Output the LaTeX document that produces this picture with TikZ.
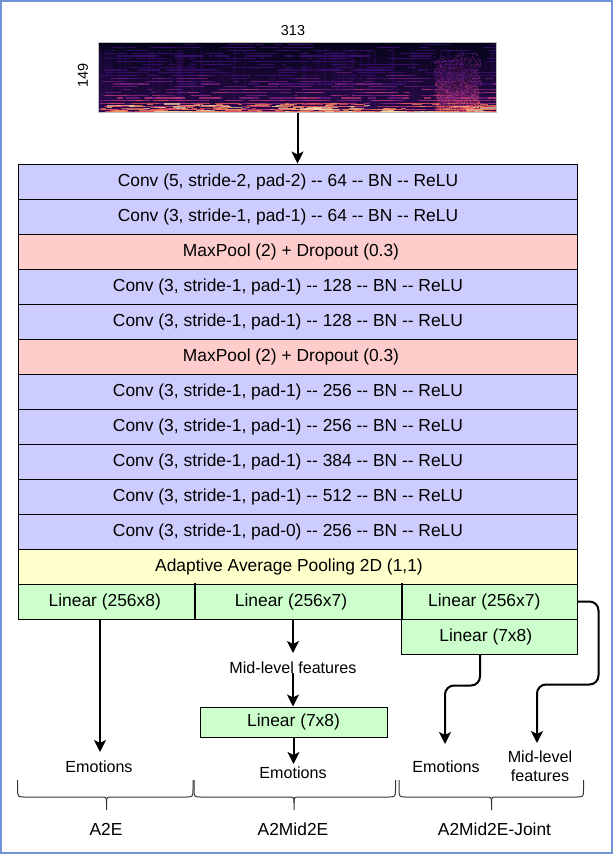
\documentclass[tikz,border=0pt]{standalone}
\usepackage{fontspec}
\newfontfamily\lib{Liberation Sans}
\usetikzlibrary{arrows.meta}
\definecolor{frameblue}{HTML}{7094D4}
\definecolor{convblue}{HTML}{CCCCFF}
\definecolor{poolred}{HTML}{FFCCCC}
\definecolor{adapyellow}{HTML}{FFFFCC}
\definecolor{lingreen}{HTML}{CCFFCC}
\definecolor{bracegray}{HTML}{333333}
\definecolor{specA}{HTML}{05041A}
\definecolor{specB}{HTML}{2A0A48}
\definecolor{mag0}{HTML}{3B0F70}
\definecolor{mag1}{HTML}{721F81}
\definecolor{mag2}{HTML}{B73779}
\definecolor{mag3}{HTML}{E8505E}
\definecolor{mag4}{HTML}{FA8E64}
\definecolor{mag5}{HTML}{FCD9A8}
\tikzset{
  boxfont/.style={font=\lib\fontsize{17.4}{20}\selectfont, inner sep=0pt},
  labfont/.style={font=\lib\fontsize{16.1}{19}\selectfont, inner sep=1pt, align=center},
  dimfont/.style={font=\lib\fontsize{14.4}{17}\selectfont, inner sep=0pt},
  layer/.style={boxfont, draw=black, line width=1pt, minimum width=559pt, minimum height=35pt},
  linbox/.style={boxfont, draw=black, line width=1pt, fill=lingreen, minimum height=35pt},
  lshift/.style={execute at begin node={\hspace*{-#1}}},
  arr/.style={line width=2pt, -{Stealth[length=12pt, width=12pt, inset=3pt]}},
  bracepath/.style={draw=bracegray, line width=1pt},
}
\begin{document}
\begin{tikzpicture}[x=1pt,y=-1pt]
\useasboundingbox (0,0) rectangle (613,854);
\draw[frameblue, line width=2pt] (1,1) rectangle (612,853);

% spectrogram
\begin{scope}
\clip (98,42) rectangle (496,112);
\shade[top color=specA, bottom color=specB] (98,42) rectangle (496,112);
\pgfmathsetseed{11}
\foreach \i in {1,...,45}{
  \pgfmathsetmacro\xa{98+rnd*398}
  \fill[mag0, opacity=0.22] (\xa,50) rectangle ++(1.5+rnd*3,62);
}
\foreach \j in {0,...,11}{
  \fill[mag2, opacity=0.03+0.035*\j] (437,58+4.5*\j) rectangle (479,62.5+4.5*\j);
}
\foreach \i in {1,...,850}{
  \pgfmathsetmacro\xa{98+rnd*398}
  \pgfmathsetmacro\u{rnd}
  \pgfmathsetmacro\yy{112-2.8*round(24*\u*\u)}
  \pgfmathsetmacro\len{3+rnd*24}
  \pgfmathtruncatemacro\k{min(5,max(0,floor((1-\u)^1.2*6*(0.4+0.6*rnd))))}
  \draw[line width=1.2pt, color=mag\k, opacity=0.75] (\xa,\yy) -- ++(\len,0);
}
\foreach \i in {1,...,160}{
  \pgfmathsetmacro\xa{98+rnd*398}
  \pgfmathsetmacro\yy{104+rnd*8}
  \pgfmathtruncatemacro\k{3+round(rnd*2)}
  \draw[line width=1.2pt, color=mag\k, opacity=0.7] (\xa,\yy) -- ++(3+rnd*15,0);
}
\foreach \i in {1,...,900}{
  \pgfmathsetmacro\xa{434+rnd*46}
  \pgfmathsetmacro\u{rnd}
  \pgfmathsetmacro\yy{112-58*\u}
  \pgfmathtruncatemacro\k{min(5,max(1,floor((1-\u)*(1-\u)*4.5*(0.5+0.5*rnd))+1))}
  \fill[color=mag\k, opacity=0.45] (\xa,\yy) rectangle ++(1.2,1.2);
}
\end{scope}
\draw[gray!50, line width=0.8pt] (98,42) rectangle (496,112);
\node[dimfont] (w313) at (293,31) {313};
\node[dimfont, rotate=90] (h149) at (83,75) {149};
\coordinate (specbot) at (297.5,112.5);

% layers
\node[layer, fill=convblue, lshift=19pt] (c1) at (297.5,181.5) {Conv (5, stride-2, pad-2) -- 64 -- BN -- ReLU};
\node[layer, fill=convblue, lshift=19pt] (c2) at (297.5,216.5) {Conv (3, stride-1, pad-1) -- 64 -- BN -- ReLU};
\node[layer, fill=poolred, lshift=13pt] (p1) at (297.5,251.5) {MaxPool (2) + Dropout (0.3)};
\node[layer, fill=convblue, lshift=19pt] (c3) at (297.5,286.5) {Conv (3, stride-1, pad-1) -- 128 -- BN -- ReLU};
\node[layer, fill=convblue, lshift=19pt] (c4) at (297.5,321.5) {Conv (3, stride-1, pad-1) -- 128 -- BN -- ReLU};
\node[layer, fill=poolred, lshift=13pt] (p2) at (297.5,356.5) {MaxPool (2) + Dropout (0.3)};
\node[layer, fill=convblue, lshift=19pt] (c5) at (297.5,391.5) {Conv (3, stride-1, pad-1) -- 256 -- BN -- ReLU};
\node[layer, fill=convblue, lshift=19pt] (c6) at (297.5,426.5) {Conv (3, stride-1, pad-1) -- 256 -- BN -- ReLU};
\node[layer, fill=convblue, lshift=19pt] (c7) at (297.5,461.5) {Conv (3, stride-1, pad-1) -- 384 -- BN -- ReLU};
\node[layer, fill=convblue, lshift=19pt] (c8) at (297.5,496.5) {Conv (3, stride-1, pad-1) -- 512 -- BN -- ReLU};
\node[layer, fill=convblue, lshift=19pt] (c9) at (297.5,531.5) {Conv (3, stride-1, pad-0) -- 256 -- BN -- ReLU};
\node[layer, fill=adapyellow, lshift=17pt] (ap) at (297.5,566.5) {Adaptive Average Pooling 2D (1,1)};

\draw[arr] (specbot) -- (c1.north);

% linear row
\node[linbox, minimum width=176.5pt, lshift=3pt] (lin1) at (106.25,601.5) {Linear (256x8)};
\node[linbox, minimum width=207pt, lshift=14pt] (lin2) at (298,601.5) {Linear (256x7)};
\node[linbox, minimum width=175.5pt, lshift=10pt] (lin3) at (489.25,601.5) {Linear (256x7)};
\node[linbox, minimum width=175.5pt, lshift=7pt] (lin4) at (489.25,636.5) {Linear (7x8)};
\draw[line width=2pt] ([yshift=1pt]lin1.north east) -- (lin1.south east);
\draw[line width=2pt] ([yshift=1pt]lin2.north east) -- (lin2.south east);

% A2E
\coordinate (e1tip) at (100,752);
\draw[arr] (e1tip |- lin1.south) -- (e1tip);
\node[labfont] (e1) at (99,767) {Emotions};

% A2Mid2E
\coordinate (m1tip) at (293,653);
\draw[arr] (m1tip |- lin2.south) -- (m1tip);
\node[labfont] (mid) at (293,668) {Mid-level features};
\node[linbox, minimum width=187pt, minimum height=30pt] (lin5) at (293.5,722) {Linear (7x8)};
\draw[arr] ([yshift=2pt]mid.south) -- (mid.south |- lin5.north);
\coordinate (e2tip) at (293.5,764);
\draw[arr] (lin5.south) -- (e2tip);
\node[labfont] (e2) at (293,773) {Emotions};

% A2Mid2E-Joint
\coordinate (e3tip) at (445,744);
\coordinate (f3tip) at (537,743);
\draw[arr, rounded corners=9pt] (lin4.south -| 480,0) -- ++(0,31) -| (e3tip);
\draw[arr, rounded corners=9pt] (lin3.east) -- ++(21,0) -- ++(0,83) -| (f3tip);
\node[labfont] (e3) at (446,767) {Emotions};
\node[labfont] (f3) at (540,766.5) {Mid-level\\features};

% braces
\foreach \xa/\xb/\xm [count=\n] in {17.6/193/106.5, 194/395.5/294, 399/583.5/491.5}{
  \draw[bracepath] (\xa,780) -- (\xa,789) .. controls (\xa,797) .. (\xa+8,797) -- (\xm-6,797) .. controls (\xm,797) .. (\xm,803) -- (\xm,810);
  \draw[bracepath] (\xb,780) -- (\xb,789) .. controls (\xb,797) .. (\xb-8,797) -- (\xm+6,797) .. controls (\xm,797) .. (\xm,803);
}
\node[boxfont] (g1) at (106,829) {A2E};
\node[boxfont] (g2) at (293,829) {A2Mid2E};
\node[boxfont] (g3) at (494.5,829) {A2Mid2E-Joint};
\end{tikzpicture}
\end{document}
